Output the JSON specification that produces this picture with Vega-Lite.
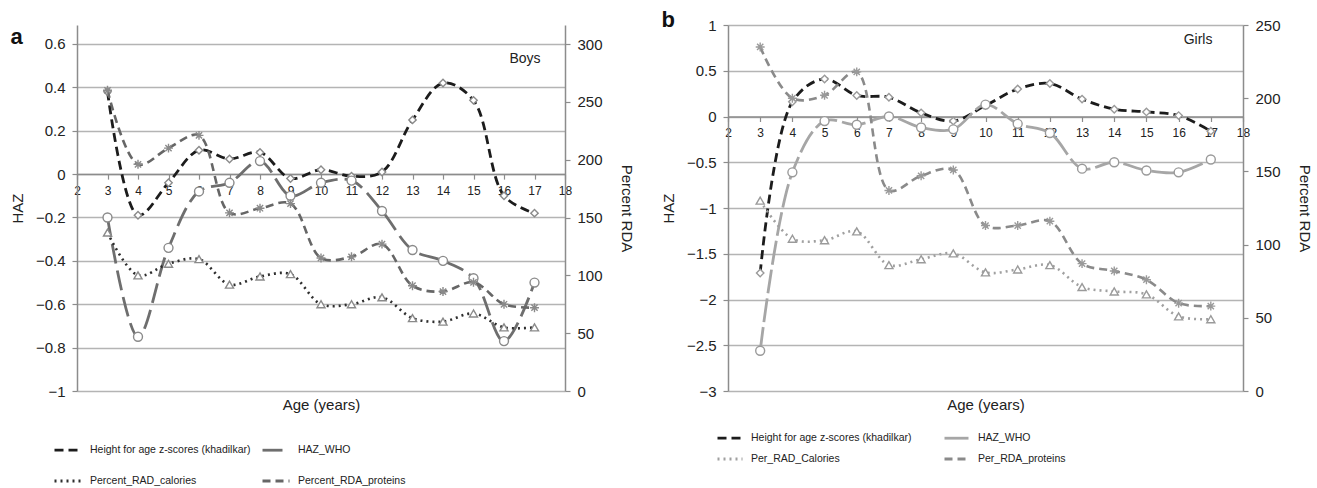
{
  "$schema": "https://vega.github.io/schema/vega-lite/v6.json",
  "config": {
    "font": "Liberation Sans",
    "view": {"stroke": null},
    "padding": {"left": 10, "top": 9, "right": 4, "bottom": 0},
    "axis": {
      "labelFont": "Liberation Sans", "titleFont": "Liberation Sans",
      "labelColor": "#222", "titleColor": "#222", "titleFontWeight": "normal",
      "domainColor": "#8c8c8c", "tickColor": "#8c8c8c", "gridColor": "#b4b4b4",
      "domainWidth": 1.5, "tickWidth": 1.2, "gridWidth": 1.5
    },
    "legend": {"labelFont": "Liberation Sans", "labelFontSize": 10.5, "labelColor": "#222", "labelLimit": 0}
  },
  "datasets": {
    "boysHAZ": [
      {"series": "Height for age z-scores (khadilkar)", "age": 3, "value": 0.38},
      {"series": "Height for age z-scores (khadilkar)", "age": 4, "value": -0.19},
      {"series": "Height for age z-scores (khadilkar)", "age": 5, "value": -0.04},
      {"series": "Height for age z-scores (khadilkar)", "age": 6, "value": 0.11},
      {"series": "Height for age z-scores (khadilkar)", "age": 7, "value": 0.07},
      {"series": "Height for age z-scores (khadilkar)", "age": 8, "value": 0.10},
      {"series": "Height for age z-scores (khadilkar)", "age": 9, "value": -0.02},
      {"series": "Height for age z-scores (khadilkar)", "age": 10, "value": 0.02},
      {"series": "Height for age z-scores (khadilkar)", "age": 11, "value": -0.01},
      {"series": "Height for age z-scores (khadilkar)", "age": 12, "value": 0.01},
      {"series": "Height for age z-scores (khadilkar)", "age": 13, "value": 0.25},
      {"series": "Height for age z-scores (khadilkar)", "age": 14, "value": 0.42},
      {"series": "Height for age z-scores (khadilkar)", "age": 15, "value": 0.34},
      {"series": "Height for age z-scores (khadilkar)", "age": 16, "value": -0.10},
      {"series": "Height for age z-scores (khadilkar)", "age": 17, "value": -0.18},
      {"series": "HAZ_WHO", "age": 3, "value": -0.20},
      {"series": "HAZ_WHO", "age": 4, "value": -0.75},
      {"series": "HAZ_WHO", "age": 5, "value": -0.34},
      {"series": "HAZ_WHO", "age": 6, "value": -0.08},
      {"series": "HAZ_WHO", "age": 7, "value": -0.04},
      {"series": "HAZ_WHO", "age": 8, "value": 0.06},
      {"series": "HAZ_WHO", "age": 9, "value": -0.10},
      {"series": "HAZ_WHO", "age": 10, "value": -0.04},
      {"series": "HAZ_WHO", "age": 11, "value": -0.03},
      {"series": "HAZ_WHO", "age": 12, "value": -0.17},
      {"series": "HAZ_WHO", "age": 13, "value": -0.35},
      {"series": "HAZ_WHO", "age": 14, "value": -0.40},
      {"series": "HAZ_WHO", "age": 15, "value": -0.48},
      {"series": "HAZ_WHO", "age": 16, "value": -0.77},
      {"series": "HAZ_WHO", "age": 17, "value": -0.50}
    ],
    "boysRDA": [
      {"series": "Percent_RAD_calories", "age": 3, "value": 137},
      {"series": "Percent_RAD_calories", "age": 4, "value": 100},
      {"series": "Percent_RAD_calories", "age": 5, "value": 110},
      {"series": "Percent_RAD_calories", "age": 6, "value": 114},
      {"series": "Percent_RAD_calories", "age": 7, "value": 92},
      {"series": "Percent_RAD_calories", "age": 8, "value": 99},
      {"series": "Percent_RAD_calories", "age": 9, "value": 101},
      {"series": "Percent_RAD_calories", "age": 10, "value": 75},
      {"series": "Percent_RAD_calories", "age": 11, "value": 75},
      {"series": "Percent_RAD_calories", "age": 12, "value": 81},
      {"series": "Percent_RAD_calories", "age": 13, "value": 63},
      {"series": "Percent_RAD_calories", "age": 14, "value": 60},
      {"series": "Percent_RAD_calories", "age": 15, "value": 67},
      {"series": "Percent_RAD_calories", "age": 16, "value": 55},
      {"series": "Percent_RAD_calories", "age": 17, "value": 55},
      {"series": "Percent_RDA_proteins", "age": 3, "value": 260},
      {"series": "Percent_RDA_proteins", "age": 4, "value": 196},
      {"series": "Percent_RDA_proteins", "age": 5, "value": 210},
      {"series": "Percent_RDA_proteins", "age": 6, "value": 221},
      {"series": "Percent_RDA_proteins", "age": 7, "value": 154},
      {"series": "Percent_RDA_proteins", "age": 8, "value": 158},
      {"series": "Percent_RDA_proteins", "age": 9, "value": 162},
      {"series": "Percent_RDA_proteins", "age": 10, "value": 115},
      {"series": "Percent_RDA_proteins", "age": 11, "value": 116},
      {"series": "Percent_RDA_proteins", "age": 12, "value": 127},
      {"series": "Percent_RDA_proteins", "age": 13, "value": 91},
      {"series": "Percent_RDA_proteins", "age": 14, "value": 86},
      {"series": "Percent_RDA_proteins", "age": 15, "value": 94},
      {"series": "Percent_RDA_proteins", "age": 16, "value": 75},
      {"series": "Percent_RDA_proteins", "age": 17, "value": 72}
    ],
    "girlsHAZ": [
      {"series": "Height for age z-scores (khadilkar)", "age": 3, "value": -1.71},
      {"series": "Height for age z-scores (khadilkar)", "age": 4, "value": 0.16},
      {"series": "Height for age z-scores (khadilkar)", "age": 5, "value": 0.41},
      {"series": "Height for age z-scores (khadilkar)", "age": 6, "value": 0.23},
      {"series": "Height for age z-scores (khadilkar)", "age": 7, "value": 0.21},
      {"series": "Height for age z-scores (khadilkar)", "age": 8, "value": 0.04},
      {"series": "Height for age z-scores (khadilkar)", "age": 9, "value": -0.05},
      {"series": "Height for age z-scores (khadilkar)", "age": 10, "value": 0.12},
      {"series": "Height for age z-scores (khadilkar)", "age": 11, "value": 0.30},
      {"series": "Height for age z-scores (khadilkar)", "age": 12, "value": 0.36},
      {"series": "Height for age z-scores (khadilkar)", "age": 13, "value": 0.19},
      {"series": "Height for age z-scores (khadilkar)", "age": 14, "value": 0.08},
      {"series": "Height for age z-scores (khadilkar)", "age": 15, "value": 0.05},
      {"series": "Height for age z-scores (khadilkar)", "age": 16, "value": 0.01},
      {"series": "Height for age z-scores (khadilkar)", "age": 17, "value": -0.16},
      {"series": "HAZ_WHO", "age": 3, "value": -2.56},
      {"series": "HAZ_WHO", "age": 4, "value": -0.61},
      {"series": "HAZ_WHO", "age": 5, "value": -0.05},
      {"series": "HAZ_WHO", "age": 6, "value": -0.09},
      {"series": "HAZ_WHO", "age": 7, "value": 0.0},
      {"series": "HAZ_WHO", "age": 8, "value": -0.12},
      {"series": "HAZ_WHO", "age": 9, "value": -0.14},
      {"series": "HAZ_WHO", "age": 10, "value": 0.13},
      {"series": "HAZ_WHO", "age": 11, "value": -0.08},
      {"series": "HAZ_WHO", "age": 12, "value": -0.18},
      {"series": "HAZ_WHO", "age": 13, "value": -0.57},
      {"series": "HAZ_WHO", "age": 14, "value": -0.50},
      {"series": "HAZ_WHO", "age": 15, "value": -0.59},
      {"series": "HAZ_WHO", "age": 16, "value": -0.61},
      {"series": "HAZ_WHO", "age": 17, "value": -0.47}
    ],
    "girlsRDA": [
      {"series": "Per_RAD_Calories", "age": 3, "value": 130},
      {"series": "Per_RAD_Calories", "age": 4, "value": 104},
      {"series": "Per_RAD_Calories", "age": 5, "value": 103},
      {"series": "Per_RAD_Calories", "age": 6, "value": 109},
      {"series": "Per_RAD_Calories", "age": 7, "value": 86},
      {"series": "Per_RAD_Calories", "age": 8, "value": 90},
      {"series": "Per_RAD_Calories", "age": 9, "value": 94},
      {"series": "Per_RAD_Calories", "age": 10, "value": 81},
      {"series": "Per_RAD_Calories", "age": 11, "value": 83},
      {"series": "Per_RAD_Calories", "age": 12, "value": 86},
      {"series": "Per_RAD_Calories", "age": 13, "value": 71},
      {"series": "Per_RAD_Calories", "age": 14, "value": 68},
      {"series": "Per_RAD_Calories", "age": 15, "value": 66},
      {"series": "Per_RAD_Calories", "age": 16, "value": 51},
      {"series": "Per_RAD_Calories", "age": 17, "value": 49},
      {"series": "Per_RDA_proteins", "age": 3, "value": 235},
      {"series": "Per_RDA_proteins", "age": 4, "value": 200},
      {"series": "Per_RDA_proteins", "age": 5, "value": 202},
      {"series": "Per_RDA_proteins", "age": 6, "value": 218},
      {"series": "Per_RDA_proteins", "age": 7, "value": 137},
      {"series": "Per_RDA_proteins", "age": 8, "value": 147},
      {"series": "Per_RDA_proteins", "age": 9, "value": 151},
      {"series": "Per_RDA_proteins", "age": 10, "value": 113},
      {"series": "Per_RDA_proteins", "age": 11, "value": 113},
      {"series": "Per_RDA_proteins", "age": 12, "value": 116},
      {"series": "Per_RDA_proteins", "age": 13, "value": 87},
      {"series": "Per_RDA_proteins", "age": 14, "value": 82},
      {"series": "Per_RDA_proteins", "age": 15, "value": 76},
      {"series": "Per_RDA_proteins", "age": 16, "value": 60},
      {"series": "Per_RDA_proteins", "age": 17, "value": 58}
    ],
    "boysNote": [{"age": 17.2, "value": 0.51, "label": "Boys"}],
    "girlsNote": [{"age": 17.05, "value": 0.79, "label": "Girls"}]
  },
  "spacing": 27,
  "resolve": {"scale": {"color": "independent", "strokeDash": "independent", "shape": "independent"}},
  "hconcat": [
    {
      "width": 488, "height": 366,
      "title": {"text": "a", "anchor": "start", "frame": "bounds", "fontSize": 22, "fontWeight": "bold", "color": "#111", "offset": -24},
      "layer": [
        {
          "data": {"name": "boysHAZ"},
          "encoding": {
            "x": {"field": "age", "type": "quantitative", "scale": {"domain": [2, 18], "nice": false, "zero": false},
              "axis": {"orient": "bottom", "values": [2,3,4,5,6,7,8,9,10,11,12,13,14,15,16,17,18], "offset": -216.9, "title": null, "grid": false, "tickSize": 5, "labelPadding": 6, "labelFontSize": 12, "labelFlush": false}},
            "y": {"field": "value", "type": "quantitative", "scale": {"domain": [-1, 0.6875], "nice": false, "zero": false},
              "axis": {"orient": "left", "title": "HAZ", "values": [-1,-0.8,-0.6,-0.4,-0.2,0,0.2,0.4,0.6], "format": "~g", "grid": true, "tickSize": 5, "labelPadding": 7, "labelFontSize": 15, "titleFontSize": 15, "titlePadding": 10}}
          },
          "layer": [
            {"mark": {"type": "line", "interpolate": "catmull-rom", "strokeWidth": 2.8, "strokeCap": "butt"},
              "encoding": {
                "color": {"field": "series", "type": "nominal", "scale": {"domain": ["Height for age z-scores (khadilkar)", "Percent_RAD_calories", "HAZ_WHO", "Percent_RDA_proteins"], "range": ["#1c1c1c", "#2e2e2e", "#6e6e6e", "#666666"]},
                  "legend": {"title": null, "orient": "none", "legendX": -24, "legendY": 410, "columns": 2, "columnPadding": 5, "rowPadding": 10, "symbolType": "stroke", "symbolSize": 729, "symbolStrokeWidth": 2.8, "labelOffset": 7}},
                "strokeDash": {"field": "series", "type": "nominal", "scale": {"domain": ["Height for age z-scores (khadilkar)", "Percent_RAD_calories", "HAZ_WHO", "Percent_RDA_proteins"], "range": [[9, 5], [2, 4], [20, 7], [8, 5]]},
                  "legend": {"title": null, "orient": "none", "legendX": -24, "legendY": 410, "columns": 2, "columnPadding": 5, "rowPadding": 10, "symbolType": "stroke", "symbolSize": 729, "symbolStrokeWidth": 2.8, "labelOffset": 7}}
              }},
            {"transform": [{"filter": "datum.series === 'Height for age z-scores (khadilkar)'"}],
              "mark": {"type": "point", "shape": "diamond", "size": 55, "filled": true, "fill": "white", "stroke": "#8a8a8a", "strokeWidth": 1.4, "opacity": 1}},
            {"transform": [{"filter": "datum.series === 'HAZ_WHO'"}],
              "mark": {"type": "point", "shape": "circle", "size": 80, "filled": true, "fill": "white", "stroke": "#8a8a8a", "strokeWidth": 1.4, "opacity": 1}}
          ]
        },
        {
          "data": {"name": "boysRDA"},
          "encoding": {
            "x": {"field": "age", "type": "quantitative", "scale": {"domain": [2, 18], "nice": false, "zero": false},
              "axis": {"orient": "bottom", "title": "Age (years)", "labels": false, "ticks": false, "domain": false, "grid": false, "titleFontSize": 15, "titlePadding": 6}},
            "y": {"field": "value", "type": "quantitative", "scale": {"domain": [0, 316.43], "nice": false},
              "axis": {"orient": "right", "title": "Percent RDA", "values": [0,50,100,150,200,250,300], "grid": false, "tickSize": 5, "labelPadding": 7, "labelFontSize": 15, "titleFontSize": 15, "titlePadding": 16}}
          },
          "layer": [
            {"mark": {"type": "line", "interpolate": "catmull-rom", "strokeWidth": 2.6, "strokeCap": "butt"},
              "encoding": {
                "color": {"field": "series", "type": "nominal", "scale": {"domain": ["Height for age z-scores (khadilkar)", "Percent_RAD_calories", "HAZ_WHO", "Percent_RDA_proteins"]}},
                "strokeDash": {"field": "series", "type": "nominal", "scale": {"domain": ["Height for age z-scores (khadilkar)", "Percent_RAD_calories", "HAZ_WHO", "Percent_RDA_proteins"]}}
              }},
            {"transform": [{"filter": "datum.series === 'Percent_RAD_calories'"}],
              "mark": {"type": "point", "shape": "triangle-up", "size": 65, "filled": true, "fill": "white", "stroke": "#8a8a8a", "strokeWidth": 1.4, "opacity": 1}},
            {"transform": [{"filter": "datum.series === 'Percent_RDA_proteins'"}],
              "mark": {"type": "point", "shape": "M-1,0L1,0M0,-1L0,1M-0.7,-0.7L0.7,0.7M-0.7,0.7L0.7,-0.7", "size": 80, "filled": false, "stroke": "#8a8a8a", "strokeWidth": 1.4, "opacity": 1}}
          ]
        },
        {
          "data": {"name": "boysNote"},
          "mark": {"type": "text", "align": "right", "baseline": "alphabetic", "fontSize": 14, "color": "#222"},
          "encoding": {
            "x": {"field": "age", "type": "quantitative", "axis": null},
            "y": {"field": "value", "type": "quantitative", "scale": {"domain": [-1, 0.6875], "nice": false, "zero": false}, "axis": null},
            "text": {"field": "label"}
          }
        }
      ],
      "resolve": {"scale": {"y": "independent"}, "axis": {"x": "independent", "y": "independent"}}
    },
    {
      "width": 515, "height": 366,
      "title": {"text": "b", "anchor": "start", "frame": "bounds", "fontSize": 22, "fontWeight": "bold", "color": "#111", "offset": -14},
      "layer": [
        {
          "data": {"name": "girlsHAZ"},
          "encoding": {
            "x": {"field": "age", "type": "quantitative", "scale": {"domain": [2, 18], "nice": false, "zero": false},
              "axis": {"orient": "bottom", "values": [2,3,4,5,6,7,8,9,10,11,12,13,14,15,16,17,18], "offset": -274.5, "title": null, "grid": false, "tickSize": 5, "labelPadding": 6, "labelFontSize": 12, "labelFlush": false}},
            "y": {"field": "value", "type": "quantitative", "scale": {"domain": [-3, 1], "nice": false, "zero": false},
              "axis": {"orient": "left", "title": "HAZ", "values": [-3,-2.5,-2,-1.5,-1,-0.5,0,0.5,1], "format": "~g", "grid": true, "tickSize": 5, "labelPadding": 7, "labelFontSize": 15, "titleFontSize": 15, "titlePadding": 10}}
          },
          "layer": [
            {"mark": {"type": "line", "interpolate": "catmull-rom", "strokeWidth": 2.8, "strokeCap": "butt"},
              "encoding": {
                "color": {"field": "series", "type": "nominal", "scale": {"domain": ["Height for age z-scores (khadilkar)", "Per_RAD_Calories", "HAZ_WHO", "Per_RDA_proteins"], "range": ["#1c1c1c", "#a0a0a0", "#a6a6a6", "#8a8a8a"]},
                  "legend": {"title": null, "orient": "none", "legendX": -12, "legendY": 399, "columns": 2, "columnPadding": 26, "rowPadding": 1, "symbolType": "stroke", "symbolSize": 625, "symbolStrokeWidth": 2.8, "labelOffset": 7}},
                "strokeDash": {"field": "series", "type": "nominal", "scale": {"domain": ["Height for age z-scores (khadilkar)", "Per_RAD_Calories", "HAZ_WHO", "Per_RDA_proteins"], "range": [[9, 5], [2, 4], [24, 5], [8, 5]]},
                  "legend": {"title": null, "orient": "none", "legendX": -12, "legendY": 399, "columns": 2, "columnPadding": 26, "rowPadding": 1, "symbolType": "stroke", "symbolSize": 625, "symbolStrokeWidth": 2.8, "labelOffset": 7}}
              }},
            {"transform": [{"filter": "datum.series === 'Height for age z-scores (khadilkar)'"}],
              "mark": {"type": "point", "shape": "diamond", "size": 55, "filled": true, "fill": "white", "stroke": "#9a9a9a", "strokeWidth": 1.4, "opacity": 1}},
            {"transform": [{"filter": "datum.series === 'HAZ_WHO'"}],
              "mark": {"type": "point", "shape": "circle", "size": 80, "filled": true, "fill": "white", "stroke": "#9a9a9a", "strokeWidth": 1.4, "opacity": 1}}
          ]
        },
        {
          "data": {"name": "girlsRDA"},
          "encoding": {
            "x": {"field": "age", "type": "quantitative", "scale": {"domain": [2, 18], "nice": false, "zero": false},
              "axis": {"orient": "bottom", "title": "Age (years)", "labels": false, "ticks": false, "domain": false, "grid": false, "titleFontSize": 15, "titlePadding": 6}},
            "y": {"field": "value", "type": "quantitative", "scale": {"domain": [0, 250], "nice": false},
              "axis": {"orient": "right", "title": "Percent RDA", "values": [0,50,100,150,200,250], "grid": false, "tickSize": 5, "labelPadding": 7, "labelFontSize": 15, "titleFontSize": 15, "titlePadding": 16}}
          },
          "layer": [
            {"mark": {"type": "line", "interpolate": "catmull-rom", "strokeWidth": 2.6, "strokeCap": "butt"},
              "encoding": {
                "color": {"field": "series", "type": "nominal", "scale": {"domain": ["Height for age z-scores (khadilkar)", "Per_RAD_Calories", "HAZ_WHO", "Per_RDA_proteins"]}},
                "strokeDash": {"field": "series", "type": "nominal", "scale": {"domain": ["Height for age z-scores (khadilkar)", "Per_RAD_Calories", "HAZ_WHO", "Per_RDA_proteins"]}}
              }},
            {"transform": [{"filter": "datum.series === 'Per_RAD_Calories'"}],
              "mark": {"type": "point", "shape": "triangle-up", "size": 65, "filled": true, "fill": "white", "stroke": "#9a9a9a", "strokeWidth": 1.4, "opacity": 1}},
            {"transform": [{"filter": "datum.series === 'Per_RDA_proteins'"}],
              "mark": {"type": "point", "shape": "M-1,0L1,0M0,-1L0,1M-0.7,-0.7L0.7,0.7M-0.7,0.7L0.7,-0.7", "size": 80, "filled": false, "stroke": "#9a9a9a", "strokeWidth": 1.4, "opacity": 1}}
          ]
        },
        {
          "data": {"name": "girlsNote"},
          "mark": {"type": "text", "align": "right", "baseline": "alphabetic", "fontSize": 14, "color": "#222"},
          "encoding": {
            "x": {"field": "age", "type": "quantitative", "axis": null},
            "y": {"field": "value", "type": "quantitative", "scale": {"domain": [-3, 1], "nice": false, "zero": false}, "axis": null},
            "text": {"field": "label"}
          }
        }
      ],
      "resolve": {"scale": {"y": "independent"}, "axis": {"x": "independent", "y": "independent"}}
    }
  ]
}
